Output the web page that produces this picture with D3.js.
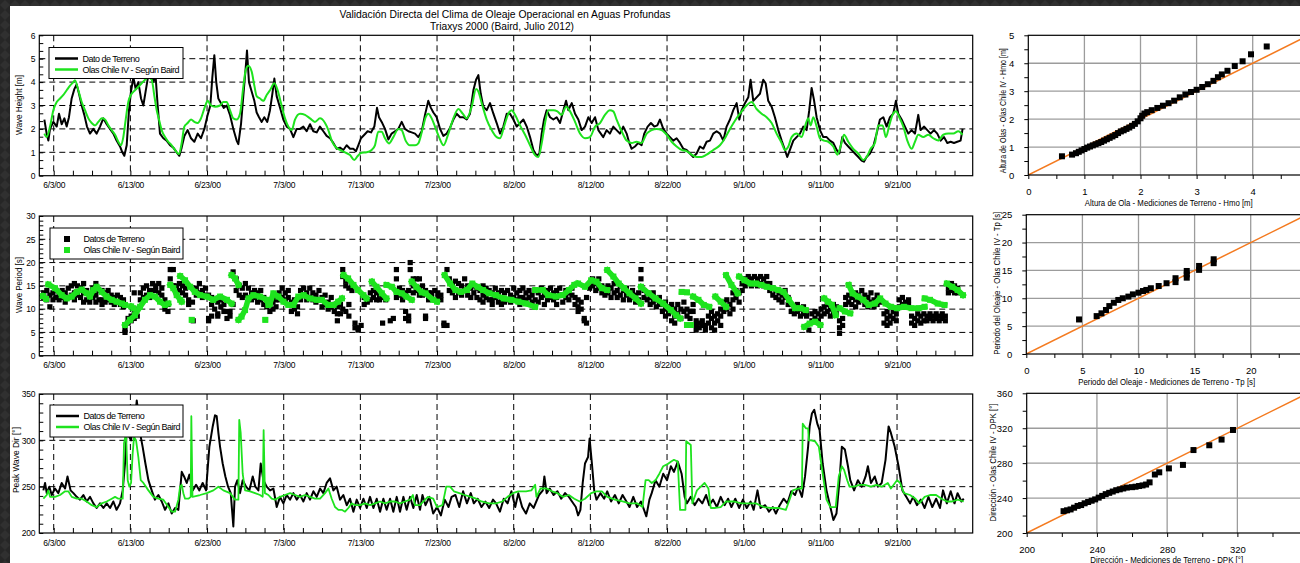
<!DOCTYPE html>
<html><head><meta charset="utf-8">
<script src="https://cdn.jsdelivr.net/npm/d3@7"></script>
<style>
html,body{margin:0;padding:0;background:#fff;overflow:hidden;}
svg{display:block;font-family:"Liberation Sans",Arial,sans-serif;}
</style></head><body>
<svg id="c" width="1300" height="563"></svg>
<script>
// ---------------- DATA (days counted from 1 June 2000) ----------------
const xTickDays   = [2,12,22,32,42,52,62,72,82,92,102,112];
const xTickLabels = ["6/3/00","6/13/00","6/23/00","7/3/00","7/13/00","7/23/00","8/2/00","8/12/00","8/22/00","9/1/00","9/11/00","9/21/00"];
const hmoTicks = [0,1,2,3,4,5,6];
const tpTicks  = [0,5,10,15,20,25,30];
const dirTicks = [200,250,300,350];

// Wave height - field data
const hmoObs = [[0.78,2.4],[1.08,1.8],[1.3,1.5],[1.52,2.0],[1.95,2.3],[2.39,2.1],[2.69,2.65],[3.04,2.2],[3.39,2.45],[3.69,2.1],[3.99,2.5],[4.34,3.3],[4.69,3.7],[4.99,3.9],[5.3,3.5],[5.65,3.0],[5.99,2.6],[6.34,2.1],[6.73,1.8],[7.17,2.0],[7.6,1.8],[8.04,2.1],[8.47,2.45],[8.91,2.2],[9.34,2.0],[9.78,1.8],[10.2,1.5],[10.65,1.25],[10.95,1.0],[11.21,0.85],[11.52,1.3],[11.82,2.8],[12.08,3.6],[12.39,4.2],[12.69,3.7],[13.04,4.0],[13.39,3.3],[13.69,3.0],[13.99,3.6],[14.34,4.3],[14.69,4.5],[14.99,4.0],[15.3,4.2],[15.56,3.0],[15.86,1.8],[16.3,1.6],[16.73,1.5],[17.17,1.3],[17.6,1.2],[18.04,1.0],[18.39,0.85],[18.69,1.2],[19.04,1.7],[19.47,1.95],[19.91,1.6],[20.34,1.45],[20.78,1.8],[21.21,1.6],[21.65,2.0],[22.08,2.6],[22.43,3.0],[22.69,4.2],[22.95,5.15],[23.2,4.0],[23.47,3.3],[23.82,3.1],[24.17,2.9],[24.56,3.0],[24.99,2.6],[25.43,2.0],[25.86,1.5],[26.08,1.35],[26.43,2.2],[26.78,3.6],[27.04,4.6],[27.21,5.35],[27.47,4.0],[27.82,3.6],[28.17,3.2],[28.47,2.7],[28.78,2.5],[29.13,2.3],[29.47,2.5],[29.86,2.3],[30.21,2.8],[30.52,3.5],[30.78,4.15],[31.08,3.4],[31.52,2.9],[31.95,2.4],[32.39,2.1],[32.82,2.0],[33.26,1.65],[33.69,2.0],[34.13,2.0],[34.56,2.1],[34.99,1.9],[35.43,2.2],[35.86,1.9],[36.3,1.85],[36.73,2.1],[37.17,1.9],[37.6,1.7],[38.04,1.6],[38.47,1.4],[38.91,1.15],[39.34,1.2],[39.78,1.1],[40.21,1.3],[40.65,1.15],[41.08,1.15],[41.43,1.05],[41.73,1.3],[42.08,1.6],[42.52,1.75],[42.95,1.9],[43.39,1.85],[43.82,2.1],[44.17,2.9],[44.43,2.5],[44.78,2.3],[45.21,2.0],[45.65,1.55],[46.08,1.8],[46.52,1.9],[46.95,2.0],[47.39,2.3],[47.82,2.0],[48.26,1.9],[48.69,1.85],[49.13,1.8],[49.56,1.65],[50.0,1.9],[50.43,2.6],[50.86,3.2],[51.2,2.9],[51.52,2.7],[51.95,2.5],[52.39,2.0],[52.82,1.7],[53.26,1.8],[53.7,2.05],[54.13,2.4],[54.56,2.65],[55.0,2.5],[55.43,2.5],[55.87,2.4],[56.3,2.65],[56.74,3.65],[57.09,4.1],[57.39,4.3],[57.7,3.5],[58.04,2.95],[58.48,2.8],[58.91,3.1],[59.35,2.65],[59.78,2.25],[60.22,1.8],[60.65,2.1],[61.09,2.65],[61.52,2.65],[61.96,2.4],[62.39,2.1],[62.83,2.25],[63.26,2.4],[63.7,2.1],[64.13,1.65],[64.57,1.1],[65.0,0.85],[65.35,0.95],[65.65,1.8],[65.96,2.4],[66.3,2.8],[66.74,2.5],[67.17,2.4],[67.61,2.5],[68.04,2.25],[68.48,2.8],[68.83,3.2],[69.13,2.8],[69.57,3.1],[70.0,2.65],[70.43,2.4],[70.87,1.95],[71.3,2.1],[71.74,2.5],[72.17,2.25],[72.61,2.5],[73.04,1.95],[73.68,1.65],[74.12,1.95],[74.55,1.8],[74.99,2.1],[75.42,1.95],[75.86,1.8],[76.29,2.1],[76.73,1.8],[77.08,1.4],[77.38,1.15],[77.82,1.25],[78.25,1.4],[78.68,1.3],[79.03,1.8],[79.47,2.1],[79.9,2.25],[80.34,2.1],[80.73,2.15],[81.08,2.4],[81.51,2.0],[81.95,1.8],[82.38,1.65],[82.82,1.5],[83.25,1.6],[83.69,1.4],[84.12,1.15],[84.55,1.1],[84.99,0.95],[85.42,0.8],[85.86,0.95],[86.29,1.25],[86.73,1.15],[87.16,1.45],[87.6,1.5],[88.03,1.8],[88.47,1.9],[88.9,1.8],[89.34,1.5],[89.77,2.1],[90.21,2.4],[90.64,2.8],[91.08,3.1],[91.43,2.4],[91.73,2.8],[92.16,3.1],[92.6,3.35],[92.9,4.1],[93.25,3.2],[93.68,3.35],[94.12,3.5],[94.55,4.1],[94.86,3.95],[95.2,3.2],[95.64,2.95],[96.07,2.5],[96.51,1.95],[96.95,1.5],[97.38,1.1],[97.68,0.8],[98.03,1.1],[98.47,1.5],[98.9,1.65],[99.34,1.8],[99.77,2.1],[100.21,1.95],[100.55,2.8],[100.86,3.75],[101.16,3.25],[101.51,2.5],[101.95,1.95],[102.38,1.65],[102.82,1.65],[103.25,1.5],[103.69,1.4],[104.12,1.1],[104.47,0.95],[104.86,1.65],[105.21,1.4],[105.64,1.25],[106.08,1.1],[106.51,0.95],[106.95,0.8],[107.38,0.65],[107.68,0.6],[108.03,0.8],[108.47,0.95],[108.9,1.25],[109.34,1.8],[109.77,2.4],[110.21,2.5],[110.64,2.1],[111.08,2.5],[111.51,2.65],[111.86,3.2],[112.16,2.65],[112.6,2.4],[113.03,2.1],[113.47,1.8],[113.9,1.95],[114.34,1.8],[114.77,2.6],[115.08,1.95],[115.51,2.1],[115.95,1.95],[116.38,1.8],[116.82,1.95],[117.25,1.8],[117.69,1.5],[118.12,1.65],[118.56,1.4],[118.99,1.45],[119.43,1.4],[119.86,1.45],[120.29,1.5],[120.55,2.0]];

// Wave height - Olas Chile IV model
const hmoModel = [[0.78,1.8],[1.08,1.65],[1.52,2.1],[1.95,2.8],[2.39,3.15],[2.82,3.3],[3.26,3.45],[3.69,3.65],[4.13,3.85],[4.56,4.0],[4.77,4.08],[5.21,3.65],[5.65,3.15],[6.08,2.8],[6.52,2.45],[6.95,2.25],[7.39,2.15],[7.82,2.3],[8.26,2.45],[8.69,2.4],[9.13,2.15],[9.56,1.95],[10.0,1.75],[10.43,1.45],[10.78,1.3],[11.08,1.65],[11.39,2.4],[11.73,3.15],[12.17,3.5],[12.6,3.65],[13.04,3.8],[13.47,3.95],[13.91,4.1],[14.34,4.2],[14.78,4.1],[15.13,3.4],[15.43,2.8],[15.73,2.4],[16.08,1.95],[16.52,1.65],[16.95,1.45],[17.39,1.3],[17.82,1.1],[18.34,0.92],[18.69,1.4],[19.04,2.1],[19.47,2.25],[19.91,2.4],[20.34,2.3],[20.78,2.25],[21.21,2.45],[21.73,2.95],[22.08,3.2],[22.52,3.0],[23.04,2.95],[23.69,3.0],[24.13,3.15],[24.56,3.15],[24.99,2.8],[25.43,2.45],[25.86,2.4],[26.3,2.65],[26.73,3.8],[27.04,4.5],[27.39,4.7],[27.82,4.45],[28.17,3.85],[28.47,3.4],[28.91,3.3],[29.34,3.2],[29.78,3.45],[30.21,3.65],[30.78,3.95],[31.21,3.65],[31.65,3.1],[32.17,2.45],[32.6,2.1],[33.04,1.95],[33.47,2.4],[34.13,2.65],[34.78,2.6],[35.43,2.45],[36.08,2.3],[36.73,2.45],[37.39,2.25],[37.82,1.95],[38.26,1.5],[38.69,1.25],[39.34,1.1],[39.99,1.0],[40.65,0.88],[41.21,0.67],[41.65,0.84],[42.17,0.98],[42.82,1.0],[43.47,1.1],[43.9,1.3],[44.34,1.88],[44.78,1.88],[45.21,1.6],[45.73,1.38],[46.3,1.65],[46.95,2.0],[47.39,1.95],[47.9,1.5],[48.47,1.3],[49.13,1.3],[49.56,1.38],[50.08,1.95],[50.52,2.5],[50.86,2.65],[51.3,2.45],[51.73,2.1],[52.26,1.65],[52.85,1.3],[53.48,1.8],[54.13,2.45],[54.78,2.85],[55.35,2.65],[55.87,2.45],[56.52,2.95],[57.09,3.7],[57.39,3.6],[57.83,3.1],[58.48,2.4],[59.13,1.95],[59.78,1.65],[60.22,1.6],[60.74,2.1],[61.3,2.65],[61.74,2.8],[62.17,2.6],[62.83,2.15],[63.48,1.75],[64.13,1.3],[64.78,0.88],[65.22,0.8],[65.65,1.38],[66.09,2.25],[66.52,2.8],[67.17,2.8],[67.7,2.75],[68.26,2.6],[68.83,2.95],[69.35,2.75],[70.0,2.3],[70.65,1.8],[71.3,1.6],[71.95,1.65],[72.61,2.1],[73.26,2.25],[73.9,2.6],[74.55,2.8],[74.99,2.75],[75.42,2.4],[76.08,1.9],[76.73,1.5],[77.38,1.4],[78.03,1.45],[78.68,1.4],[79.34,1.8],[79.99,1.95],[80.64,2.0],[81.29,1.95],[81.95,1.75],[82.6,1.45],[83.25,1.25],[83.9,1.1],[84.55,1.05],[85.21,0.9],[85.86,0.8],[86.51,0.8],[87.16,0.9],[88.03,1.1],[88.9,1.3],[89.55,1.6],[90.21,2.0],[90.86,2.35],[91.51,2.65],[92.38,3.0],[93.03,3.15],[93.68,2.85],[94.34,2.65],[94.99,2.5],[95.64,2.25],[96.29,1.8],[96.95,1.4],[97.38,1.1],[97.82,1.25],[98.25,1.65],[98.9,1.8],[99.56,1.65],[99.99,2.1],[100.42,2.45],[100.73,2.15],[101.08,2.5],[101.51,2.1],[101.95,1.6],[102.47,1.5],[103.03,1.45],[103.69,1.25],[104.21,0.9],[104.64,1.25],[105.08,1.75],[105.64,1.45],[106.29,1.15],[106.95,0.95],[107.6,0.67],[108.03,0.8],[108.56,1.15],[109.12,1.4],[109.55,2.15],[110.12,2.15],[110.55,1.65],[110.99,2.15],[111.42,2.6],[111.86,2.75],[112.29,2.5],[112.82,2.1],[113.34,1.5],[113.9,1.15],[114.34,1.45],[114.77,1.75],[115.42,1.65],[116.08,1.75],[116.73,1.6],[117.38,1.5],[118.03,1.75],[118.69,1.8],[119.34,1.8],[119.99,1.9],[120.55,1.75]];

// Wave period - field data: [day, observed values...]
const periodObs = [[0.7,13.5,12.5],[1.1,14,12],[1.5,13,10.5],[1.9,13.5,12],[2.3,14,12.5],[2.7,13,12],[3.1,14,12.5],[3.5,13.5,11.5],[3.9,14.5,12.5],[4.3,15,13],[4.7,15.5,13.5,12],[5.1,15,13],[5.5,14.5,12.5],[5.9,15.5,13.5,11.5],[6.3,14,12],[6.7,13,11.5],[7.1,14.5,12.5],[7.5,15.5,13,11.5],[7.9,14,12],[8.3,14,12,11],[8.7,13.5,11.5],[9.1,14,12],[9.5,13,11.5],[9.9,12.5,11],[10.3,13,11.5],[10.7,12.5,11],[11.1,12,10.5],[11.3,5.5,5],[11.7,7,8],[12.1,8.5,7.5],[12.5,9,8,13.5],[12.9,8.5,10],[13.3,12,13.5],[13.7,14.5,12.5],[14.1,15,13],[14.5,14,12.5],[14.9,15.5,14],[15.3,15,14],[15.7,15.5,13.5],[16.1,14.5,13],[16.5,12,10],[16.9,11,9.5],[17.2,18.5,16.5],[17.6,18.5,15],[18.0,15,13.5],[18.4,15.5,14],[18.8,15,13.5],[19.2,14.5,13],[19.6,12,11],[20.1,11.5],[20.2,7.5],[20.6,14.5,13],[21.0,15.5,13.5],[21.4,14,12.5],[21.8,14.5,13],[22.2,8,7.5,13],[22.6,8.5,11,12.5],[23.0,10,12],[23.4,9,11.5,8.5],[23.8,10.5,12],[24.2,9.5,11],[24.6,8,9.5],[25.0,8.5,9.5],[25.4,18,11],[25.8,16.5,14],[26.2,15,13],[26.6,14.5,12.5],[27.0,15.5,13],[27.4,14.5,12.5],[27.8,13.5,12],[28.2,14,12.5],[28.6,13.5,11.5],[29.0,14,12],[29.4,12.5,11],[29.8,12,10.5],[30.2,11,9.5],[30.6,11.5,10],[31.0,12,10.5],[31.4,13.5,12],[31.8,14.5,12.5],[32.2,13.5,12],[32.6,14,12.5],[33.0,11.5,9.5],[33.4,12,10],[33.8,10.5,9],[34.2,14,12],[34.6,14.5,13],[35.0,13.5,12],[35.4,14.5,12.5],[35.8,13.5,12],[36.2,13,11.5],[36.6,14,12],[37.0,12.5,10.5],[37.4,13,11],[37.8,11.5,10],[38.2,12.5,10.5],[38.6,11,9.5],[39.0,10.5,9,7.5],[39.4,11,9],[39.7,18.5,17,10],[40.1,16,15,9.5],[40.5,14.5,11,8.5],[40.9,15,14],[41.3,7,6],[41.7,6,5.5],[42.1,6.5],[42.5,12.5,11],[42.9,12,11.5],[43.3,13.5,12],[43.7,14,12.5],[44.1,13.5,12],[44.5,13,12],[44.9,12.5,7],[45.3,12],[45.9,7.5],[46.3,8],[46.7,18.5,16.5,12.5],[47.1,14.5,13],[47.5,14,12],[47.9,13.5,9.5,8],[48.3,8.5,7.5,14],[48.5,20,18.5],[48.9,16.5,15,13.5],[49.3,16.5,14],[49.7,16.5,14.5,13],[50.1,15,13],[50.5,8.5,8,14],[50.9,13.5,12],[51.3,12.5,13.5],[51.7,14,12],[52.1,13.5,12.5],[52.5,13,12],[52.9,7,6.5],[53.3,6.5,18.5],[53.6,16.5,14],[54.0,15.5,13.5],[54.4,16,14,12.5],[54.8,15.5,13.5],[55.2,15,13],[55.6,16.5,14],[56.0,15,13],[56.4,14.5,12.5],[56.8,15,13.5],[57.2,14.5,12.5],[57.6,14,12],[58.0,15,13,11.5],[58.4,14.5,12.5],[58.8,14,12],[59.2,13.5,12,11],[59.6,14.5,12.5],[60.0,13.5,11.5],[60.4,14,12,11],[60.8,13.5,11.5],[61.2,14,12],[61.6,13,11.5],[62.0,14.5,12.5],[62.4,13.5,12],[62.8,14,12.5,11],[63.2,14.5,12.5],[63.6,13.5,12],[64.0,14,12.5],[64.4,13,11.5],[64.8,14,12,10.5],[65.2,13.5,11.5],[65.6,14.5,12.5],[66.0,13,11],[66.4,14,12],[66.8,14.5,12.5],[67.2,13.5,12],[67.6,14,12.5,11],[68.0,14.5,13],[68.4,13,11.5],[68.8,14,12.5],[69.2,13.5,12],[69.6,14.5,13],[70.0,12.5,11],[70.4,12,10.5,9.5],[70.8,11.5,10],[71.2,7.5,8],[71.5,7,12.5],[71.9,15,14.5],[72.3,16.5,15],[72.7,15.5,14],[73.1,16.5,14.5],[73.5,15,13.5],[73.9,14.5,13],[74.3,15,13.5],[74.7,14.5,12.5],[75.1,15.5,13.5],[75.5,14,12.5],[75.9,15,13],[76.3,14,12],[76.7,14.5,13],[77.1,13.5,12],[77.5,14,12.5],[77.9,13,11.5],[78.3,13.5,12],[78.6,18.5,16.5],[79.0,14,12.5],[79.4,13.5,12],[79.8,12.5,11],[80.2,13.5,11.5],[80.6,12,10.5],[81.0,12.5,11],[81.4,11,9.5],[81.8,11.5,10,8.5],[82.2,10.5,9],[82.6,11,9.5,7.5],[83.0,10,8.5,7],[83.4,11,9],[83.8,10,8],[84.2,11.5,9.5],[84.6,10,8.5],[85.0,9.5,8],[85.4,11,9.5],[85.8,7.5,6.5,5.5],[86.2,7,6],[86.6,7.5,6.5],[87.0,6.5,5.5],[87.4,8.5,7],[87.8,9.5,8,6],[88.2,8.5,7,5.5],[88.6,9,7.5],[89.0,10,8.5,6.5],[89.4,11.5,9.5],[89.8,12,10],[90.2,11,9],[90.6,13.5,12,10],[91.0,14,12.5],[91.4,13.5,11.5],[91.8,15.5,14],[92.2,16.5,15],[92.6,17,15.5],[93.0,16.5,15],[93.4,17,15.5],[93.8,16.5,15],[94.2,17,15.5],[94.6,16.5,15],[95.0,17,15.5],[95.4,15.5,14],[95.8,14.5,13],[96.2,14,12.5],[96.6,13.5,12],[97.0,13,11.5],[97.4,14,12.5],[97.8,12.5,11],[98.2,11,9.5],[98.6,10.5,9],[99.0,11,9.5],[99.4,10,8.5],[99.8,10.5,9],[100.2,9.5,8.5],[100.5,5.5],[100.9,9,7.5],[101.3,9.5,8],[101.7,9,7.5],[102.1,10,8.5],[102.5,10.5,9],[102.9,11,9.5],[103.3,10,8.5],[103.7,11,9.5],[104.1,10.5,9],[104.5,7.5,6,4.8],[104.9,8,6.5],[105.3,12.5,11],[105.7,13,11.5],[106.1,12.5,11],[106.6,13.5,12,10.5],[107.0,13,11.5],[107.4,14,12],[107.8,13,11],[108.2,12.5,10.5],[108.6,13.5,11.5],[109.0,12,10.5],[109.4,13,11],[109.8,11.5],[110.3,9,7],[110.7,9.5,8,6.5],[111.1,8.5,7],[111.5,9.5,8],[111.9,9,7.5],[112.3,12,10.5],[112.7,12.5,11],[113.1,11.5,10.5],[113.5,12,11],[113.9,8.5,7],[114.3,8,6.5],[114.7,9,7.5],[115.1,8.5,7],[115.5,9,7.5],[115.9,8.5,7.5],[116.3,9,8],[116.7,8.5,7.5],[117.1,9,8],[117.5,8.5,7.5],[117.9,9,8],[118.3,8.5,7.5],[118.7,14.5,13.5],[119.1,15.5,14],[119.5,15,13.5],[119.9,14.5,13.5]];

// Wave period - model (runs of consecutive points)
const periodModel = [
 [[0.6,12.8],[1.0,12.2]],
 [[1.3,15.3],[2.17,14.5],[3.04,13],[3.7,12.3],[4.35,12.7],[5.0,13.7],[5.65,14.2],[6.3,13.4],[6.74,12.7],[7.17,14.1],[7.6,14.8],[8.26,13.7],[8.9,12.7],[9.57,12],[10.2,11.6],[10.9,11.2],[11.3,10.9]],
 [[11.3,6.6],[11.96,7.7],[12.6,8.7],[13.26,10.5],[13.9,12],[14.57,13],[15.2,12.7],[15.87,11.6],[16.5,10.9],[16.96,11.2]],
 [[12.1,10.6],[12.4,10.2]],
 [[17.2,15.2],[17.6,14.5],[18.04,13],[18.5,12],[18.7,11.6]],
 [[18.5,17.1],[19.13,16.2],[19.8,14.8],[20.4,13.7],[21.1,13],[21.96,12.7],[22.8,12],[23.7,12.7],[24.6,12],[25.2,11.2]],
 [[20.0,7.7]],
 [[25.2,17.3],[25.65,16.6],[26.1,15.2]],
 [[26.1,7.7],[26.5,8.4],[26.96,9.8],[27.4,12.3],[28.04,13],[28.9,12.7],[29.8,12],[30.0,10.9]],
 [[29.6,7.7]],
 [[30.2,11.2],[30.65,13.4],[31.3,12.7],[31.96,11.6],[32.6,10.9],[33.26,10.9],[33.9,12.7],[34.6,13],[35.4,12.3],[36.3,12],[36.96,12],[37.8,10.9],[38.5,10.9],[39.1,11.6],[39.6,12.3]],
 [[39.8,17.3],[40.4,16.6],[41.1,15.2],[41.7,14.1],[42.4,13],[42.8,12.3]],
 [[43.5,15.9],[44.1,14.8],[44.8,13.4],[45.4,12.3]],
 [[45.4,15.2],[46.1,14.8],[46.7,13.7],[47.4,13.4],[48.0,12.7],[48.7,12]],
 [[48.7,15.9],[49.3,14.8],[50.0,13.6],[50.5,13.4],[51.5,12],[52.0,11.6]],
 [[53.0,17.3],[53.7,15.5],[54.4,14.1],[55.1,13.7],[55.9,14.1],[56.6,15.5],[57.3,14.8],[58.0,14.1],[58.8,13.4],[59.7,13],[60.7,12.3],[61.7,12],[62.6,11.6],[63.6,11.2],[64.8,10.5]],
 [[64.8,14.1],[65.8,14.1],[66.5,13],[67.5,12.7],[68.4,13],[69.2,14.1],[69.9,15.2]],
 [[70.4,15.5],[71.3,14.8],[72.1,16.2],[72.8,15.9],[73.5,14.5],[74.2,14.1]],
 [[74.2,18.4],[75.0,17],[75.7,15.5],[76.4,14.5],[77.1,13.4],[77.9,12.3],[78.6,11.2]],
 [[78.6,14.8],[79.6,13.4],[80.5,12.3],[81.5,11.2],[82.5,9.8],[83.2,8.7],[83.7,8]],
 [[84.6,6.6],[85.1,6.6]],
 [[83.9,13.7],[84.6,13.6]],
 [[85.4,12.7],[86.1,12],[86.8,10.9],[87.5,10.5]],
 [[88.3,12.7],[89.0,11.6],[89.7,10.5]],
 [[89.7,17.3],[90.4,15.2],[91.2,13.4]],
 [[91.4,17],[92.1,16.2],[92.9,15.5],[93.6,15.5],[94.3,15.2],[95.0,14.8],[95.8,14.5],[96.5,14.1],[97.2,13.7],[97.9,12],[98.7,10.2],[99.4,10.2],[100.1,9.8]],
 [[99.9,6.2],[100.6,6.9],[101.3,7.3],[102.0,6.6]],
 [[102.5,12.3],[103.0,11.6],[103.5,10.9],[104.0,8.7]],
 [[104.5,10.2],[105.2,9.5],[105.9,9.1]],
 [[105.7,15.2],[106.2,13.4],[106.9,12.7],[107.6,12],[108.3,10.9],[109.1,11.2],[109.8,12.3],[110.5,11.2],[111.2,10.5],[112.0,10.2],[112.9,10.5],[113.9,10.2],[114.8,10.2],[115.6,10.5]],
 [[115.6,12.3],[116.3,12],[117.3,11.2],[118.2,10.9]],
 [[118.5,15.5],[119.2,14.8],[119.9,14.1],[120.6,13]]
];

// Peak wave direction - field data
const dirObs = [[0.65,246],[0.87,254],[1.09,243],[1.43,250],[1.74,241],[2.17,248],[2.6,243],[3.04,254],[3.48,248],[3.8,261],[4.2,246],[4.57,243],[5.0,239],[5.43,236],[5.87,241],[6.3,234],[6.74,239],[7.17,232],[7.6,227],[8.04,232],[8.48,227],[8.91,232],[9.35,227],[9.78,234],[10.2,225],[10.65,232],[11.0,246],[11.3,275],[11.52,311],[11.83,304],[12.09,300],[12.3,315],[12.6,322],[12.83,343],[13.04,329],[13.26,308],[13.6,293],[13.96,275],[14.35,257],[14.78,246],[15.2,236],[15.65,241],[16.09,234],[16.52,225],[16.96,232],[17.39,221],[17.83,227],[18.26,225],[18.7,266],[19.0,261],[19.35,254],[19.7,263],[20.13,246],[20.57,252],[21.0,246],[21.43,254],[21.87,246],[22.3,293],[22.74,315],[23.04,327],[23.26,326],[23.48,308],[23.7,293],[24.04,275],[24.39,261],[24.74,250],[25.09,243],[25.43,207],[25.65,250],[25.96,257],[26.3,243],[26.65,257],[27.09,250],[27.52,246],[27.96,261],[28.3,250],[28.7,246],[29.0,275],[29.35,257],[29.78,250],[30.22,246],[30.65,248],[31.09,228],[31.52,239],[31.96,232],[32.39,241],[32.83,236],[33.26,243],[33.7,236],[34.13,241],[34.57,234],[35.0,243],[35.43,236],[35.87,245],[36.3,239],[36.74,248],[37.17,243],[37.6,254],[38.04,259],[38.48,246],[38.91,250],[39.35,236],[39.78,241],[40.22,230],[40.65,237],[41.09,223],[41.52,236],[41.96,227],[42.39,237],[42.83,227],[43.26,239],[43.7,227],[44.13,237],[44.57,223],[45.0,237],[45.43,225],[45.87,237],[46.3,223],[46.74,239],[47.17,223],[47.61,239],[48.04,225],[48.48,239],[48.91,227],[49.35,241],[49.78,225],[50.1,241],[50.5,230],[51.0,239],[51.5,221],[52.0,228],[52.5,219],[53.0,236],[53.5,228],[53.9,239],[54.4,241],[54.9,228],[55.4,245],[55.9,232],[56.4,243],[56.8,232],[57.3,237],[57.8,228],[58.3,234],[58.8,227],[59.3,236],[59.7,232],[60.2,223],[60.7,237],[61.2,232],[61.7,245],[62.2,228],[62.6,243],[63.1,228],[63.6,221],[64.1,232],[64.6,227],[65.3,241],[65.8,246],[66.0,261],[66.3,243],[66.7,248],[67.2,241],[67.7,245],[68.2,237],[68.7,243],[69.2,239],[69.6,234],[70.1,228],[70.4,219],[70.7,225],[71.0,254],[71.3,275],[71.7,282],[71.9,302],[72.2,275],[72.5,246],[72.8,236],[73.3,243],[73.8,237],[74.2,245],[74.7,234],[75.2,241],[75.7,232],[76.2,241],[76.7,234],[77.1,228],[77.6,239],[78.1,228],[78.6,234],[79.0,225],[79.3,218],[79.7,236],[80.0,243],[80.5,257],[81.0,250],[81.5,264],[82.0,257],[82.5,272],[82.9,266],[83.4,277],[83.9,264],[84.3,239],[84.6,232],[85.1,239],[85.6,230],[86.1,237],[86.6,232],[87.1,241],[87.5,230],[88.0,236],[88.5,228],[89.0,239],[89.5,230],[89.96,237],[90.4,228],[90.9,237],[91.4,227],[91.9,236],[92.4,227],[92.9,234],[93.3,225],[93.8,246],[94.2,227],[94.8,230],[95.3,223],[95.8,228],[96.2,221],[96.7,230],[97.2,237],[97.7,232],[98.2,245],[98.7,241],[99.1,250],[99.6,239],[100.0,261],[100.4,293],[100.6,315],[100.9,329],[101.2,333],[101.6,318],[101.9,311],[102.3,275],[102.8,246],[103.3,228],[103.7,214],[104.1,221],[104.5,257],[104.8,293],[105.2,290],[105.6,272],[105.9,257],[106.4,246],[106.9,257],[107.4,250],[107.9,261],[108.2,272],[108.6,254],[109.1,261],[109.5,250],[110.0,254],[110.5,279],[110.9,315],[111.2,308],[111.7,293],[112.2,272],[112.7,246],[113.2,239],[113.7,232],[114.1,239],[114.6,230],[115.1,236],[115.6,227],[116.1,239],[116.6,228],[117.1,237],[117.6,227],[118.0,246],[118.5,232],[119.0,245],[119.5,232],[119.9,243],[120.4,234],[120.7,237]];

// Peak wave direction - model
const dirModel = [[0.65,237],[1.09,241],[1.3,246],[1.52,239],[2.17,239],[2.83,241],[3.48,245],[3.91,245],[4.35,239],[5.0,237],[5.65,237],[6.3,234],[6.96,230],[7.6,228],[8.26,232],[8.91,234],[9.57,237],[10.0,239],[10.43,237],[11.0,237],[11.17,297],[11.43,308],[11.65,257],[11.87,250],[12.09,254],[12.3,286],[12.48,304],[12.74,300],[13.04,282],[13.35,257],[13.7,254],[14.35,246],[15.0,239],[15.65,237],[16.3,236],[16.96,228],[17.39,223],[17.83,223],[18.26,236],[18.48,250],[18.7,252],[18.91,243],[19.13,237],[19.57,237],[19.87,239],[19.95,326],[20.1,239],[21.09,241],[21.96,243],[22.83,246],[23.48,250],[24.13,246],[25.0,243],[25.65,236],[26.09,236],[26.2,322],[26.39,308],[26.65,264],[26.96,246],[27.61,245],[28.26,243],[28.91,241],[29.26,239],[29.38,311],[29.55,243],[30.0,241],[30.43,237],[30.87,236],[31.52,239],[32.17,241],[32.83,243],[33.48,241],[34.13,239],[34.78,241],[35.43,239],[36.09,237],[36.74,237],[37.39,243],[37.83,248],[38.26,237],[38.7,228],[39.13,225],[39.57,225],[40.0,223],[40.43,227],[40.87,232],[41.3,230],[41.96,230],[42.61,232],[43.26,230],[43.91,232],[44.57,234],[45.22,232],[45.87,234],[46.52,234],[47.17,232],[47.83,234],[48.48,236],[48.85,241],[49.13,230],[49.78,230],[50.1,233],[50.8,239],[51.5,237],[52.0,228],[52.7,230],[53.2,250],[53.7,250],[54.2,245],[54.9,243],[55.6,241],[56.4,239],[57.1,237],[57.8,234],[58.8,232],[59.7,232],[60.5,234],[61.2,239],[61.9,243],[62.6,245],[63.6,245],[64.3,246],[64.8,252],[64.96,239],[65.5,248],[66.3,248],[67.0,245],[67.7,243],[68.4,239],[69.2,241],[69.9,237],[70.6,234],[71.3,237],[72.1,243],[72.8,245],[73.5,245],[74.2,239],[75.2,236],[76.2,234],[77.1,232],[78.1,232],[78.8,228],[79.2,257],[79.6,257],[80.0,254],[80.5,257],[81.0,264],[81.5,272],[82.0,274],[82.5,277],[82.9,279],[83.4,277],[83.7,225],[84.4,225],[84.5,299],[85.1,295],[85.3,232],[85.9,246],[86.4,250],[86.9,254],[87.4,248],[87.7,227],[88.3,227],[89.0,228],[89.7,234],[90.7,234],[91.7,232],[92.6,232],[93.6,232],[94.6,228],[95.5,227],[96.5,227],[97.5,225],[97.9,234],[98.4,246],[99.1,248],[99.6,248],[99.7,318],[100.1,313],[100.4,313],[100.5,300],[100.8,300],[101.3,299],[101.8,293],[102.3,264],[102.8,236],[103.3,228],[104.0,228],[104.4,261],[104.8,272],[105.1,268],[105.5,257],[105.8,250],[106.4,250],[107.1,252],[107.8,252],[108.6,250],[109.3,252],[110.0,250],[110.8,254],[111.2,248],[112.0,257],[112.4,254],[112.9,243],[113.7,241],[114.4,237],[114.9,232],[115.6,239],[116.3,241],[117.1,241],[117.8,237],[118.5,234],[119.2,234],[119.9,236],[120.7,234]];

// Quantile comparison (field vs model)
const qqHmoObs   = [0.6,0.78,0.85,0.9,0.95,1.0,1.05,1.1,1.15,1.2,1.25,1.3,1.35,1.4,1.45,1.5,1.55,1.6,1.65,1.7,1.75,1.8,1.85,1.9,1.95,2.0,2.03,2.07,2.12,2.2,2.3,2.4,2.5,2.6,2.7,2.8,2.9,3.0,3.1,3.2,3.3,3.38,3.45,3.55,3.68,3.82,3.97,4.25];
const qqHmoModel = [0.67,0.73,0.78,0.83,0.88,0.93,0.98,1.02,1.06,1.1,1.14,1.18,1.23,1.28,1.33,1.38,1.43,1.5,1.56,1.6,1.65,1.7,1.76,1.83,1.92,2.03,2.12,2.2,2.25,2.32,2.4,2.48,2.57,2.66,2.78,2.88,2.97,3.05,3.15,3.25,3.37,3.5,3.6,3.73,3.9,4.07,4.32,4.6];
const qqTpObs    = [4.7,6.27,6.7,7.1,7.4,7.8,8.2,8.6,9.1,9.5,10.0,10.4,10.7,11.1,11.8,12.5,13.3,13.3,14.3,14.3,14.3,15.4,15.4,16.7,16.7];
const qqTpModel  = [6.2,6.8,7.3,7.9,8.6,9.2,9.7,10.0,10.3,10.7,11.0,11.3,11.5,11.8,12.2,12.7,12.9,13.6,13.7,14.3,14.9,15.1,15.8,16.3,17.0];
const qqDirObs   = [221,223,225,227,229,231,233,235,237,239,241,243,245,247,249,251,253,255,257,260,262,264,266,268,270,273,275.5,281,289,295,304,311,317.5];
const qqDirModel = [225,226,227,229,231,232,234,235.5,237,238.5,240.5,242.5,244.5,246,247.5,249,250,251,252,252.5,253,253.8,254.5,255.5,258,267,269.5,274,278,295,300.5,307,318];

// ---------------- DRAWING ----------------
const GREEN = "#1ee31e";
const svg = d3.select("#c");
const defs = svg.append("defs");
const pat = defs.append("pattern").attr("id","carbon").attr("width",10).attr("height",10).attr("patternUnits","userSpaceOnUse");
pat.append("rect").attr("width",10).attr("height",10).attr("fill","#262626");
pat.append("path").attr("d","M0,5L5,0L10,5L5,10Z").attr("fill","#303030");

svg.append("rect").attr("width",1300).attr("height",563).attr("fill","#fff");
svg.append("rect").attr("x",0).attr("y",0).attr("width",1300).attr("height",6).attr("fill","url(#carbon)");
svg.append("rect").attr("x",0).attr("y",0).attr("width",10).attr("height",563).attr("fill","url(#carbon)");

// Title
svg.append("text").attr("x",505).attr("y",18).attr("text-anchor","middle").attr("font-size",11)
  .attr("textLength",331).attr("lengthAdjust","spacingAndGlyphs")
  .text("Validación Directa del Clima de Oleaje Operacional en Aguas Profundas");
svg.append("text").attr("x",502).attr("y",30).attr("text-anchor","middle").attr("font-size",11)
  .attr("textLength",144).attr("lengthAdjust","spacingAndGlyphs")
  .text("Triaxys 2000 (Baird, Julio 2012)");

const t0 = Date.UTC(2000,5,1);
const dayDate = d => new Date(t0 + d*864e5);
const X0 = 39.3, X1 = 972.7;
const x = d3.scaleUtc().domain([dayDate(0.12), dayDate(121.87)]).range([X0, X1]);
const minorDays = d3.range(2, 121.8, 2.5);

const panels = [
  {id:"h", top:35.3, bottom:175.7, ticks:hmoTicks, minorStep:1/3, label:"Wave Height [m]", lx:22, ly:105, llen:60},
  {id:"p", top:216, bottom:355.7, ticks:tpTicks, minorStep:1, label:"Wave Period [s]", lx:21.5, ly:285, llen:56},
  {id:"d", top:394, bottom:533, ticks:dirTicks, minorStep:10, label:"Peak Wave Dir [°]", lx:18.5, ly:460, llen:66}
];

panels.forEach(p => {
  const lo = p.ticks[0], hi = p.ticks[p.ticks.length-1];
  p.y = d3.scaleLinear().domain([lo, hi]).range([p.bottom, p.top]);
  const g = svg.append("g");
  p.g = g;
  defs.append("clipPath").attr("id","clip"+p.id).append("rect")
    .attr("x",X0).attr("y",p.top).attr("width",X1-X0).attr("height",p.bottom-p.top);
  g.append("g").selectAll("line").data(p.ticks.slice(1,-1)).join("line")
    .attr("x1",X0).attr("x2",X1).attr("y1",d=>p.y(d)).attr("y2",d=>p.y(d))
    .attr("stroke","#000").attr("stroke-width",1).attr("stroke-dasharray","6,4");
  g.append("g").selectAll("line").data(xTickDays).join("line")
    .attr("x1",d=>x(dayDate(d))).attr("x2",d=>x(dayDate(d))).attr("y1",p.top).attr("y2",p.bottom)
    .attr("stroke","#000").attr("stroke-width",1).attr("stroke-dasharray","6,4");
  const minorY = d3.range(lo, hi+1e-9, p.minorStep);
  g.append("g").attr("transform",`translate(${X0},0)`)
    .call(d3.axisLeft(p.y).tickValues(minorY).tickSize(-4).tickFormat(""))
    .call(s=>s.select(".domain").remove());
  g.append("g").attr("transform",`translate(${X0},0)`)
    .call(d3.axisLeft(p.y).tickValues(p.ticks).tickSize(0).tickPadding(4).tickFormat(d=>String(d)))
    .call(s=>s.select(".domain").remove())
    .call(s=>s.selectAll("text").attr("font-size",8.5).attr("letter-spacing","-0.2").attr("fill","#000").attr("font-family","Liberation Sans, Arial, sans-serif"));
  g.append("g").attr("transform",`translate(0,${p.bottom})`)
    .call(d3.axisBottom(x).tickValues(minorDays.map(dayDate)).tickSize(-5).tickFormat(""))
    .call(s=>s.select(".domain").remove());
  g.append("g").attr("transform",`translate(0,${p.bottom})`)
    .call(d3.axisBottom(x).tickValues(xTickDays.map(dayDate)).tickSize(0).tickPadding(6.5).tickFormat((d,i)=>xTickLabels[i]))
    .call(s=>s.select(".domain").remove())
    .call(s=>s.selectAll("text").attr("font-size",8.5).attr("letter-spacing","-0.3").attr("fill","#000").attr("font-family","Liberation Sans, Arial, sans-serif"));
  svg.append("text").attr("transform",`translate(${p.lx},${p.ly}) rotate(-90)`).attr("text-anchor","middle")
    .attr("font-size",9).attr("textLength",p.llen).attr("lengthAdjust","spacingAndGlyphs").text(p.label);
  p.data = g.append("g").attr("clip-path",`url(#clip${p.id})`);
});

const P1 = panels[0], P2 = panels[1], P3 = panels[2];
const line1 = d3.line().x(d=>x(dayDate(d[0]))).y(d=>P1.y(d[1]));
P1.data.append("path").datum(hmoObs).attr("d",line1).attr("fill","none").attr("stroke","#000").attr("stroke-width",2).attr("stroke-linejoin","round");
P1.data.append("path").datum(hmoModel).attr("d",line1.curve(d3.curveMonotoneX)).attr("fill","none").attr("stroke",GREEN).attr("stroke-width",2);

const obsPts = periodObs.flatMap(r => r.slice(1).map(v => [r[0], v]));
P2.data.append("g").selectAll("rect").data(obsPts).join("rect")
  .attr("x",d=>x(dayDate(d[0]))-2.6).attr("y",d=>P2.y(d[1])-2.6).attr("width",5.2).attr("height",5.2).attr("fill","#000");
const line2 = d3.line().x(d=>x(dayDate(d[0]))).y(d=>P2.y(d[1]));
P2.data.append("g").selectAll("path").data(periodModel).join("path")
  .attr("d",line2).attr("fill","none").attr("stroke",GREEN).attr("stroke-width",5.5).attr("stroke-linecap","square").attr("stroke-linejoin","round");
P2.data.append("g").selectAll("rect").data(periodModel.flat()).join("rect")
  .attr("x",d=>x(dayDate(d[0]))-3).attr("y",d=>P2.y(d[1])-3).attr("width",6).attr("height",6).attr("fill",GREEN);

const line3 = d3.line().x(d=>x(dayDate(d[0]))).y(d=>P3.y(d[1]));
P3.data.append("path").datum(dirObs).attr("d",line3).attr("fill","none").attr("stroke","#000").attr("stroke-width",2).attr("stroke-linejoin","round");
P3.data.append("path").datum(dirModel).attr("d",line3).attr("fill","none").attr("stroke",GREEN).attr("stroke-width",1.8).attr("stroke-linejoin","round");

panels.forEach(p => {
  p.g.append("rect").attr("x",X0).attr("y",p.top).attr("width",X1-X0).attr("height",p.bottom-p.top)
    .attr("fill","none").attr("stroke","#000").attr("stroke-width",1.2);
});

function legend(x0, y0, w, h, items, kind) {
  const g = svg.append("g");
  g.append("rect").attr("x",x0).attr("y",y0).attr("width",w).attr("height",h).attr("fill","#fff").attr("stroke","#000").attr("stroke-width",1);
  items.forEach((it,i) => {
    const cy = y0 + 11 + i*11;
    if (kind === "line") {
      g.append("line").attr("x1",x0+6).attr("x2",x0+29).attr("y1",cy).attr("y2",cy).attr("stroke",it.c).attr("stroke-width",2.5);
    } else {
      g.append("rect").attr("x",x0+14).attr("y",cy-3).attr("width",6).attr("height",6).attr("fill",it.c);
    }
    g.append("text").attr("x",x0+33.5).attr("y",cy+3).attr("font-size",9).attr("letter-spacing","-0.5").text(it.t);
  });
}
legend(49, 47.5, 134, 31, [{t:"Dato de Terreno",c:"#000"},{t:"Olas Chile IV - Según Baird",c:GREEN}], "line");
legend(50, 228, 133, 31, [{t:"Datos de Terreno",c:"#000"},{t:"Olas Chile IV - Según Baird",c:GREEN}], "sq");
legend(50, 405, 133, 32, [{t:"Datos de Terreno",c:"#000"},{t:"Olas Chile IV - Según Baird",c:GREEN}], "line");

// ---------------- SCATTER (QQ) PLOTS ----------------
const scat = [
  {x0:1028.3, x1:1308.8, y0:35.3, y1:175, dom:[0,5], major:[0,1,2,3,4,5], minor:0.5, xs:qqHmoObs, ys:qqHmoModel,
   xl:"Altura de Ola - Mediciones de Terreno - Hmo [m]", xlx:1168.8, xly:206, xll:168,
   yl:"Altura de Olas - Olas Chile IV - Hmo [m]", ylx:1005.7, yly:110.8, yll:125},
  {x0:1026.3, x1:1306.8, y0:214.7, y1:354, dom:[0,25], major:[0,5,10,15,20,25], minor:2.5, xs:qqTpObs, ys:qqTpModel,
   xl:"Periodo del Oleaje - Mediciones de Terreno - Tp [s]", xlx:1166.7, xly:384.5, xll:177,
   yl:"Periodo del Oleaje - Olas Chile IV - Tp [s]", ylx:1000.3, yly:283.3, yll:143},
  {x0:1026.7, x1:1307.6, y0:393.3, y1:533, dom:[200,360], major:[200,240,280,320,360], minor:20, xs:qqDirObs, ys:qqDirModel,
   xl:"Dirección  - Mediciones de Terreno - DPK [°]", xlx:1166.7, xly:562.5, xll:153,
   yl:"Dirección  - Olas Chile IV - DPK [°]", ylx:996.3, yly:462.5, yll:118}
];
scat.forEach((s,k) => {
  const sx = d3.scaleLinear().domain(s.dom).range([s.x0, s.x1]);
  const sy = d3.scaleLinear().domain(s.dom).range([s.y1, s.y0]);
  const g = svg.append("g");
  defs.append("clipPath").attr("id","sclip"+k).append("rect").attr("x",s.x0).attr("y",s.y0).attr("width",s.x1-s.x0).attr("height",s.y1-s.y0);
  const inner = s.major.slice(1,-1);
  g.append("g").selectAll("line").data(inner).join("line")
    .attr("x1",d=>sx(d)).attr("x2",d=>sx(d)).attr("y1",s.y0).attr("y2",s.y1).attr("stroke","#9c9c9c").attr("stroke-width",1.3);
  g.append("g").selectAll("line").data(inner).join("line")
    .attr("y1",d=>sy(d)).attr("y2",d=>sy(d)).attr("x1",s.x0).attr("x2",s.x1).attr("stroke","#9c9c9c").attr("stroke-width",1.3);
  const minorV = d3.range(s.dom[0], s.dom[1]+1e-9, s.minor);
  g.append("g").attr("transform",`translate(0,${s.y1})`)
    .call(d3.axisBottom(sx).tickValues(minorV).tickSize(4).tickFormat(""))
    .call(a=>a.select(".domain").remove());
  // x labels: the last one falls beyond the visible page edge in the reference, so it is not shown
  g.append("g").attr("transform",`translate(0,${s.y1})`)
    .call(d3.axisBottom(sx).tickValues(s.major.slice(0,-1)).tickSize(0).tickPadding(13).tickFormat(d=>String(d)))
    .call(a=>a.select(".domain").remove())
    .call(a=>a.selectAll("text").attr("font-size",9.5).attr("fill","#000").attr("font-family","Liberation Sans, Arial, sans-serif"));
  g.append("g").attr("transform",`translate(${s.x0},0)`)
    .call(d3.axisLeft(sy).tickValues(minorV).tickSize(4).tickFormat(""))
    .call(a=>a.select(".domain").remove());
  g.append("g").attr("transform",`translate(${s.x0},0)`)
    .call(d3.axisLeft(sy).tickValues(s.major).tickSize(0).tickPadding(14).tickFormat(d=>String(d)))
    .call(a=>a.select(".domain").remove())
    .call(a=>a.selectAll("text").attr("font-size",9.5).attr("fill","#000").attr("font-family","Liberation Sans, Arial, sans-serif"));
  const dg = g.append("g").attr("clip-path",`url(#sclip${k})`);
  dg.append("line").attr("x1",sx(s.dom[0])).attr("y1",sy(s.dom[0])).attr("x2",sx(s.dom[1])).attr("y2",sy(s.dom[1]))
    .attr("stroke","#f47a1f").attr("stroke-width",1.5);
  dg.append("g").selectAll("rect").data(s.xs.map((v,i)=>[v,s.ys[i]])).join("rect")
    .attr("x",d=>sx(d[0])-3).attr("y",d=>sy(d[1])-3).attr("width",6).attr("height",6).attr("fill","#000");
  g.append("rect").attr("x",s.x0).attr("y",s.y0).attr("width",s.x1-s.x0).attr("height",s.y1-s.y0)
    .attr("fill","none").attr("stroke","#000").attr("stroke-width",1.2);
  g.append("text").attr("x",s.xlx).attr("y",s.xly).attr("text-anchor","middle").attr("font-size",9)
    .attr("textLength",s.xll).attr("lengthAdjust","spacingAndGlyphs").text(s.xl);
  g.append("text").attr("transform",`translate(${s.ylx},${s.yly}) rotate(-90)`).attr("text-anchor","middle").attr("font-size",9)
    .attr("textLength",s.yll).attr("lengthAdjust","spacingAndGlyphs").text(s.yl);
});
</script>
</body></html>
